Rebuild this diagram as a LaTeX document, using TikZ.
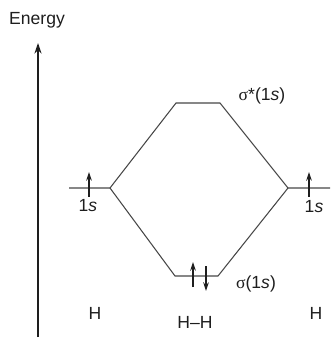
\documentclass[tikz,border=0pt]{standalone}
\usepackage{fontspec}
\setmainfont{Liberation Sans}
\newfontfamily\greekfont{Liberation Serif}
\usepackage{tikz}
\usetikzlibrary{arrows.meta}
\definecolor{Ink}{RGB}{30, 30, 30}
\definecolor{Level}{RGB}{70, 70, 70}

\tikzset{
  level/.style={draw=Level, line width=0.6pt},
  spin/.style={draw=Ink, line width=0.6pt, -{Stealth[length=5pt, width=3.2pt]}},
  lbl/.style={font=\normalsize, text=Ink, inner sep=0pt}
}

\begin{document}
\begin{tikzpicture}[x=0.02cm, y=-0.02cm]
\useasboundingbox (0,0) rectangle (331,340);
% energy axis
\coordinate (axisbot) at (38,337);
\coordinate (axistop) at (38,43);
\draw[Ink, line width=0.8pt, -{Stealth[length=6pt, width=4pt]}] (axisbot) -- (axistop);
\node[lbl] (energy) at (37,20) {Energy};
% atomic and molecular levels
\coordinate (la) at (69,188); \coordinate (lb) at (110,188);
\coordinate (ra) at (288,188); \coordinate (rb) at (330,188);
\coordinate (ta) at (176,103); \coordinate (tb) at (220,103);
\coordinate (ba) at (175,276); \coordinate (bb) at (218,276);
\draw[level] (la) -- (lb) -- (ta) -- (tb) -- (ra) -- (rb);
\draw[level] (lb) -- (ba) -- (bb) -- (ra);
% electrons
\coordinate (e1a) at (89,197); \coordinate (e1b) at (89,172);
\coordinate (e2a) at (309,197); \coordinate (e2b) at (309,172);
\coordinate (e3a) at (193,287); \coordinate (e3b) at (193,262);
\coordinate (e4a) at (206,266); \coordinate (e4b) at (206,291);
\draw[spin] (e1a) -- (e1b);
\draw[spin] (e2a) -- (e2b);
\draw[spin] (e3a) -- (e3b);
\draw[spin] (e4a) -- (e4b);
% labels
\node[lbl] (s1l) at (88,206) {1\textit{s}};
\node[lbl] (s1r) at (314,207) {1\textit{s}};
\node[lbl] (sigstar) at (262,96) {{\greekfont σ}*(1\textit{s})};
\node[lbl] (sig) at (256,284) {{\greekfont σ}(1\textit{s})};
\node[lbl] (hl) at (95,313) {H};
\node[lbl] (hh) at (195,322) {H--H};
\node[lbl] (hr) at (316,313) {H};
\end{tikzpicture}
\end{document}
